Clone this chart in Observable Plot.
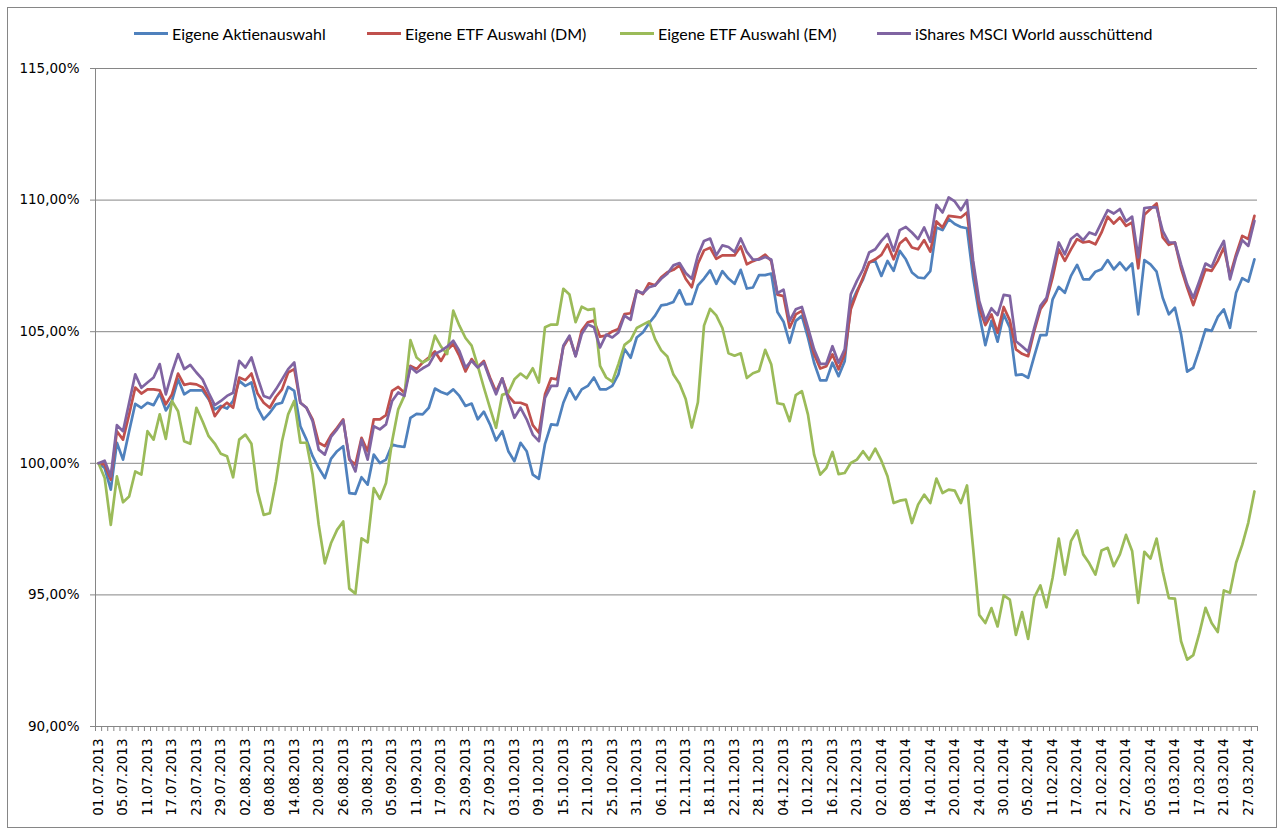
<!DOCTYPE html>
<html><head><meta charset="utf-8">
<script src="https://cdn.jsdelivr.net/npm/d3@7"></script>
<script src="https://cdn.jsdelivr.net/npm/@observablehq/plot@0.6"></script>
<style>
body{margin:0;background:#fff;}
#wrap{position:relative;width:1283px;height:834px;overflow:hidden;background:#fff}
#chart{position:absolute;left:0;top:0}
#frame{position:absolute;left:7px;top:7px;width:1270px;height:821px;border:1px solid #868686;box-sizing:border-box;pointer-events:none}
.leg{position:absolute;top:24px;height:18px;display:flex;align-items:center;font-family:Lato,"Open Sans",sans-serif;font-size:16px;color:#000;white-space:nowrap}
.leg i{display:inline-block;width:34px;height:3px;margin-right:4px}
</style></head><body>
<div id="wrap"><div id="chart"></div><div id="frame"></div>
<div id="legend"></div>
</div>
<script>
const dates = [
"01.07.2013","02.07.2013","03.07.2013","04.07.2013","05.07.2013","08.07.2013","09.07.2013","10.07.2013","11.07.2013","12.07.2013","15.07.2013","16.07.2013","17.07.2013","18.07.2013","19.07.2013","22.07.2013","23.07.2013","24.07.2013","25.07.2013","26.07.2013","29.07.2013","30.07.2013","31.07.2013",
"01.08.2013","02.08.2013","05.08.2013","06.08.2013","07.08.2013","08.08.2013","09.08.2013","12.08.2013","13.08.2013","14.08.2013","15.08.2013","16.08.2013","19.08.2013","20.08.2013","21.08.2013","22.08.2013","23.08.2013","26.08.2013","27.08.2013","28.08.2013","29.08.2013","30.08.2013",
"02.09.2013","03.09.2013","04.09.2013","05.09.2013","06.09.2013","09.09.2013","10.09.2013","11.09.2013","12.09.2013","13.09.2013","16.09.2013","17.09.2013","18.09.2013","19.09.2013","20.09.2013","23.09.2013","24.09.2013","25.09.2013","26.09.2013","27.09.2013","30.09.2013",
"01.10.2013","02.10.2013","03.10.2013","04.10.2013","07.10.2013","08.10.2013","09.10.2013","10.10.2013","11.10.2013","14.10.2013","15.10.2013","16.10.2013","17.10.2013","18.10.2013","21.10.2013","22.10.2013","23.10.2013","24.10.2013","25.10.2013","28.10.2013","29.10.2013","30.10.2013","31.10.2013",
"01.11.2013","04.11.2013","05.11.2013","06.11.2013","07.11.2013","08.11.2013","11.11.2013","12.11.2013","13.11.2013","14.11.2013","15.11.2013","18.11.2013","19.11.2013","20.11.2013","21.11.2013","22.11.2013","25.11.2013","26.11.2013","27.11.2013","28.11.2013","29.11.2013",
"02.12.2013","03.12.2013","04.12.2013","05.12.2013","06.12.2013","09.12.2013","10.12.2013","11.12.2013","12.12.2013","13.12.2013","16.12.2013","17.12.2013","18.12.2013","19.12.2013","20.12.2013","23.12.2013","27.12.2013","30.12.2013",
"02.01.2014","03.01.2014","06.01.2014","07.01.2014","08.01.2014","09.01.2014","10.01.2014","13.01.2014","14.01.2014","15.01.2014","16.01.2014","17.01.2014","20.01.2014","21.01.2014","22.01.2014","23.01.2014","24.01.2014","27.01.2014","28.01.2014","29.01.2014","30.01.2014","31.01.2014",
"03.02.2014","04.02.2014","05.02.2014","06.02.2014","07.02.2014","10.02.2014","11.02.2014","12.02.2014","13.02.2014","14.02.2014","17.02.2014","18.02.2014","19.02.2014","20.02.2014","21.02.2014","24.02.2014","25.02.2014","26.02.2014","27.02.2014","28.02.2014",
"03.03.2014","04.03.2014","05.03.2014","06.03.2014","07.03.2014","10.03.2014","11.03.2014","12.03.2014","13.03.2014","14.03.2014","17.03.2014","18.03.2014","19.03.2014","20.03.2014","21.03.2014","24.03.2014","25.03.2014","26.03.2014","27.03.2014","28.03.2014"
];

const aktienauswahl = [
100,99.82,99.0,100.78,100.14,101.22,102.26,102.11,102.3,102.21,102.65,102.01,102.37,103.19,102.62,102.77,102.77,102.77,102.43,102.05,
102.18,102.08,102.37,103.13,102.94,103.07,102.11,101.67,101.92,102.24,102.3,102.9,102.75,101.41,100.9,100.27,99.82,99.44,100.17,100.46,
100.65,98.87,98.84,99.47,99.19,100.33,100.01,100.14,100.71,100.65,100.62,101.73,101.88,101.86,102.11,102.84,102.71,102.62,102.81,102.56,
102.18,102.27,101.67,101.96,101.48,100.87,101.22,100.46,100.08,100.78,100.46,99.57,99.41,100.74,101.48,101.45,102.3,102.85,102.43,102.81,
102.94,103.26,102.81,102.81,102.94,103.38,104.34,104.01,104.78,104.97,105.32,105.61,106.0,106.04,106.13,106.58,106.04,106.06,106.76,107.02,
107.33,106.82,107.3,107.02,106.82,107.35,106.64,106.68,107.15,107.15,107.21,105.75,105.38,104.58,105.41,105.6,104.77,103.82,103.15,103.15,
103.82,103.31,103.88,106.04,106.55,106.99,107.63,107.69,107.12,107.69,107.31,108.07,107.75,107.25,107.06,107.03,107.3,108.96,108.86,109.28,
109.09,108.98,108.93,107.06,105.66,104.49,105.41,104.62,105.66,105.15,103.35,103.38,103.25,104.07,104.87,104.87,106.23,106.7,106.48,107.12,
107.54,106.99,106.99,107.28,107.37,107.72,107.37,107.63,107.34,107.59,105.66,107.72,107.56,107.28,106.29,105.66,105.91,104.9,103.48,103.63,
104.33,105.09,105.03,105.56,105.85,105.15,106.48,107.03,106.9,107.75
];

const etfDM = [
100,99.95,99.38,101.22,100.9,101.86,102.88,102.65,102.81,102.81,102.77,102.24,102.62,103.41,102.98,103.03,103.0,102.88,102.49,101.79,
102.11,102.3,102.11,103.26,103.16,103.41,102.65,102.3,102.11,102.52,102.81,103.45,103.58,102.3,102.11,101.67,100.78,100.65,101.06,101.35,
101.67,100.14,99.95,100.97,100.46,101.67,101.67,101.83,102.75,102.9,102.68,103.7,103.58,103.83,104.02,104.25,103.89,104.3,104.53,104.08,
103.49,103.96,103.66,103.89,103.26,102.72,103.23,102.56,102.3,102.3,102.21,101.45,101.16,102.62,103.23,103.19,104.43,104.81,104.08,105.04,
105.36,105.42,104.81,104.85,105.01,105.1,105.67,105.7,106.56,106.43,106.84,106.76,107.07,107.26,107.35,107.52,107.01,106.69,107.58,108.09,
108.19,107.77,107.9,107.9,107.9,108.24,107.56,107.68,107.77,107.93,107.68,106.41,106.35,105.15,105.66,105.79,105.03,104.14,103.6,103.69,
104.14,103.57,104.14,105.85,106.48,107.06,107.63,107.75,107.92,108.32,107.75,108.35,108.55,108.2,108.13,108.48,108.04,109.19,108.96,109.4,
109.37,109.34,109.53,107.56,105.91,105.25,105.66,104.96,105.94,105.43,104.33,104.16,104.07,105.03,105.85,106.19,107.06,108.13,107.69,108.13,
108.52,108.39,108.43,108.32,108.77,109.37,109.11,109.34,109.02,109.15,107.41,109.44,109.66,109.87,108.58,108.3,108.39,107.41,106.68,106.01,
106.7,107.37,107.31,107.69,108.2,107.12,107.94,108.64,108.52,109.4
];

const etfEM = [
100,99.44,97.66,99.5,98.52,98.74,99.69,99.57,101.22,100.9,101.86,100.93,102.37,101.98,100.84,100.74,102.11,101.6,101.03,100.75,
100.36,100.27,99.47,100.9,101.09,100.74,98.93,98.04,98.1,99.31,100.84,101.86,102.37,100.78,100.78,99.57,97.66,96.2,96.96,97.47,
97.79,95.24,95.05,97.15,97.0,99.06,98.65,99.25,100.84,102.05,102.56,104.68,104.02,103.83,103.96,104.85,104.43,104.15,105.8,105.23,
104.76,104.47,103.7,102.88,102.11,101.35,102.6,102.68,103.19,103.41,103.23,103.61,103.07,105.17,105.27,105.27,106.63,106.41,105.36,105.95,
105.83,105.87,103.7,103.26,103.1,103.77,104.5,104.68,105.14,105.27,105.39,104.72,104.29,104.06,103.37,103.02,102.44,101.36,102.32,105.23,
105.87,105.62,105.14,104.18,104.09,104.18,103.24,103.42,103.51,104.31,103.75,102.28,102.24,101.6,102.59,102.74,101.85,100.33,99.57,99.82,
100.43,99.59,99.63,100.01,100.14,100.46,100.14,100.56,100.1,99.51,98.49,98.58,98.62,97.73,98.43,98.81,98.49,99.42,98.87,99.0,
98.96,98.49,99.16,96.78,94.24,93.93,94.5,93.8,94.98,94.82,93.48,94.35,93.33,94.91,95.36,94.53,95.65,97.14,95.77,97.04,
97.45,96.54,96.2,95.77,96.69,96.79,96.09,96.54,97.28,96.67,94.7,96.64,96.38,97.14,95.9,94.88,94.86,93.24,92.54,92.71,
93.55,94.51,93.93,93.59,95.17,95.08,96.22,96.9,97.75,98.93
];

const msciWorld = [
100,100.1,99.5,101.45,101.22,102.3,103.38,102.87,103.07,103.26,103.77,102.62,103.45,104.15,103.58,103.74,103.45,103.19,102.68,102.21,
102.37,102.56,102.68,103.89,103.64,104.02,103.26,102.56,102.47,102.81,103.19,103.58,103.83,102.3,102.11,101.6,100.52,100.33,101.0,101.29,
101.63,100.2,99.69,100.9,100.14,101.41,101.29,101.48,102.37,102.69,102.56,103.66,103.45,103.61,103.74,104.15,104.27,104.43,104.66,104.27,
103.64,103.89,103.64,103.83,103.19,102.62,103.23,102.43,101.73,102.11,101.67,101.09,100.84,102.49,102.94,102.94,104.47,104.85,104.06,104.91,
105.27,105.17,104.4,104.89,104.78,104.97,105.61,105.45,106.56,106.46,106.69,106.76,107.01,107.2,107.52,107.61,107.23,107.01,107.9,108.45,
108.54,107.9,108.28,108.22,108.03,108.54,108.03,107.74,107.74,107.84,107.74,106.46,106.6,105.41,105.85,105.94,105.15,104.33,103.78,103.78,
104.45,103.82,104.33,106.42,106.93,107.37,108.01,108.13,108.45,108.71,108.07,108.86,108.98,108.77,108.52,108.96,108.42,109.82,109.53,110.1,
109.95,109.62,110.0,107.7,106.17,105.41,105.89,105.63,106.4,106.36,104.64,104.45,104.24,105.15,105.98,106.29,107.34,108.39,107.94,108.52,
108.71,108.48,108.77,108.68,109.15,109.62,109.49,109.66,109.19,109.37,107.82,109.7,109.72,109.72,108.83,108.39,108.39,107.56,106.8,106.29,
106.93,107.59,107.46,108.01,108.45,106.99,107.84,108.48,108.26,109.21
];

const seriesNames = ["Eigene Aktienauswahl","Eigene ETF Auswahl (DM)","Eigene ETF Auswahl (EM)","iShares MSCI World ausschüttend"];
const seriesColors = ["#4F81BD","#C0504D","#9BBB59","#8064A2"];
const seriesValues = [aktienauswahl, etfDM, etfEM, msciWorld];
const yTicks = [90,95,100,105,110,115];
const labelIdx = dates.map((_, i) => i).filter(i => i % 4 === 0);
const boundaries = d3.range(dates.length + 1).map(i => i - 0.5);

const fmtPct = v => v.toFixed(2).replace(".", ",") + "%";

const chart = Plot.plot({
  width: 1283, height: 834,
  marginLeft: 95, marginRight: 26, marginTop: 68, marginBottom: 108,
  x: {domain: [-0.5, dates.length - 0.5], axis: null},
  y: {domain: [90, 115], axis: null},
  style: {background: "transparent", color: "#000", overflow: "visible"},
  marks: [
    Plot.gridY(yTicks, {stroke: "#868686", strokeOpacity: 1, strokeWidth: 1}),
    Plot.ruleX([-0.5], {stroke: "#868686", strokeWidth: 1}),
    Plot.axisY({ticks: yTicks, tickFormat: fmtPct, tickSize: 5, tickPadding: 11, stroke: "#868686", strokeOpacity: 1, fill: "#000", fontSize: 13.5, fontFamily: "DejaVu Sans"}),
    Plot.axisX({ticks: boundaries, tickFormat: () => "", tickSize: 5, stroke: "#868686", strokeOpacity: 1}),
    Plot.axisX({ticks: labelIdx, tickFormat: i => dates[i], tickSize: 0, tickPadding: 12, tickRotate: -90, fill: "#000", fontSize: 13.5, fontFamily: "DejaVu Sans"}),
    ...seriesValues.map((vals, k) => Plot.lineY(vals, {x: (_, i) => i, y: d => d, stroke: seriesColors[k], strokeWidth: 2.7, strokeLinejoin: "round", strokeLinecap: "round"}))
  ]
});
document.getElementById("chart").appendChild(chart);

const legLeft = [134, 367, 620, 877];
const legend = document.getElementById("legend");
seriesNames.forEach((name, k) => {
  const item = document.createElement("div");
  item.className = "leg";
  item.style.left = legLeft[k] + "px";
  item.innerHTML = `<i style="background:${seriesColors[k]}"></i>${name}`;
  legend.appendChild(item);
});
</script>
</body></html>
